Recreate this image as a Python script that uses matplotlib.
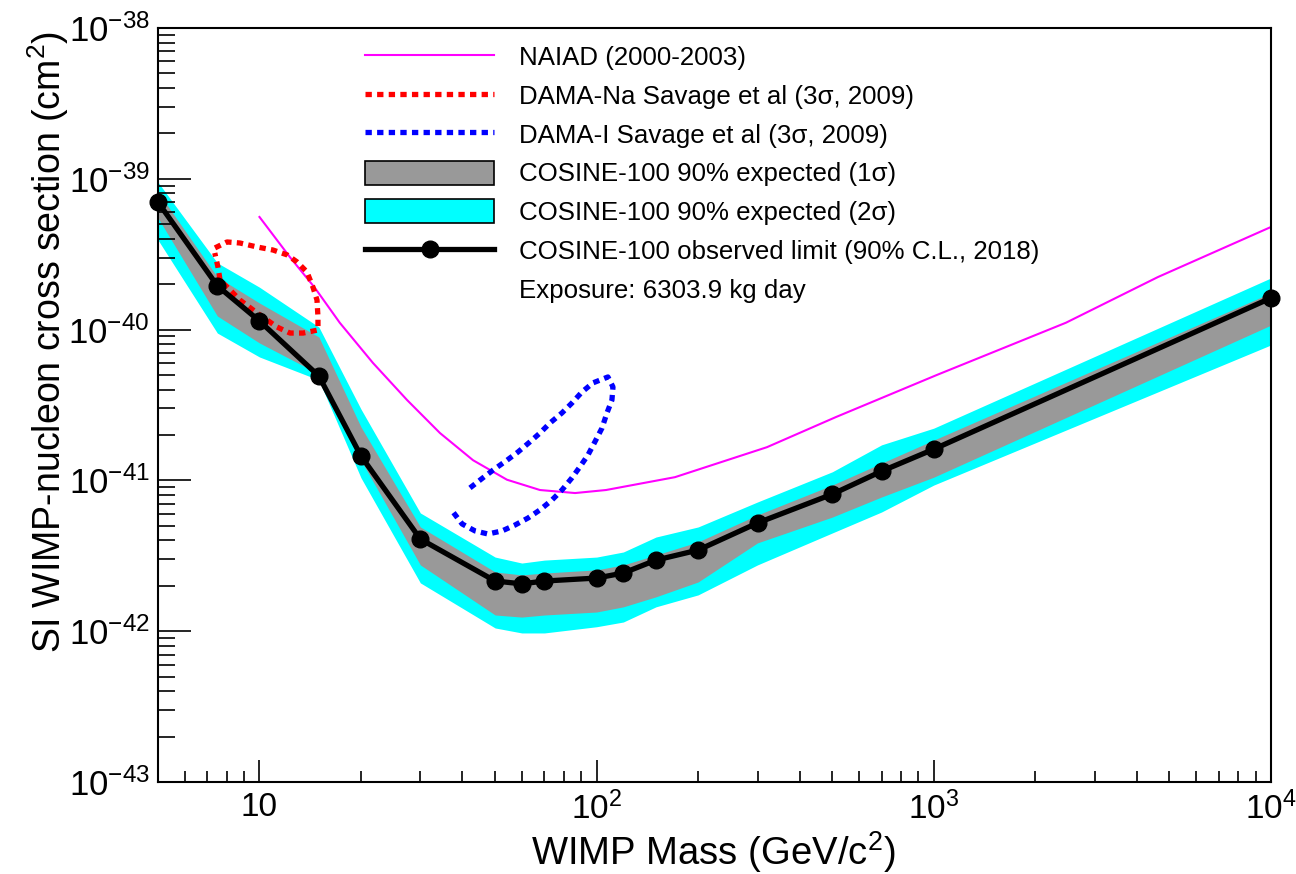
import matplotlib
matplotlib.use('Agg')
import matplotlib.pyplot as plt
from matplotlib.patches import Patch
from matplotlib.lines import Line2D
from matplotlib.ticker import FixedLocator, FixedFormatter, LogLocator, NullFormatter

plt.rcParams['font.family'] = ['Liberation Sans', 'DejaVu Sans']
plt.rcParams['mathtext.fontset'] = 'custom'
plt.rcParams['mathtext.rm'] = 'Liberation Sans'
plt.rcParams['mathtext.it'] = 'Liberation Sans:italic'

# COSINE-100 observed limit
mass = [5, 7.5, 10, 15, 20, 30, 50, 60, 70, 100, 120, 150, 200, 300, 500, 700, 1000, 10000]
observed = [7.0e-40, 1.95e-40, 1.14e-40, 4.92e-41, 1.45e-41, 4.08e-42, 2.15e-42, 2.06e-42, 2.15e-42,
            2.25e-42, 2.43e-42, 2.96e-42, 3.45e-42, 5.22e-42, 8.1e-42, 1.15e-41, 1.61e-41, 1.62e-40]

# expected bands
sig2_hi = [9.5e-40, 2.77e-40, 1.91e-40, 1.04e-40, 2.97e-41, 6.08e-42, 3.10e-42, 2.83e-42, 2.96e-42,
           3.10e-42, 3.35e-42, 4.21e-42, 4.91e-42, 7.19e-42, 1.14e-41, 1.72e-41, 2.22e-41, 2.20e-40]
sig1_hi = [8.17e-40, 2.23e-40, 1.50e-40, 8.93e-41, 2.26e-41, 4.91e-42, 2.47e-42, 2.36e-42, 2.43e-42,
           2.55e-42, 2.75e-42, 3.20e-42, 3.91e-42, 5.90e-42, 9.31e-42, 1.30e-41, 1.85e-41, 1.75e-40]
sig1_lo = [5.50e-40, 1.23e-40, 8.15e-41, 5.08e-41, 1.36e-41, 2.75e-42, 1.28e-42, 1.24e-42, 1.28e-42,
           1.34e-42, 1.45e-42, 1.69e-42, 2.12e-42, 3.85e-42, 5.71e-42, 7.76e-42, 1.05e-41, 1.07e-40]
sig2_lo = [3.93e-40, 9.48e-41, 6.58e-41, 4.63e-41, 1.04e-41, 2.09e-42, 1.05e-42, 9.73e-43, 9.73e-43,
           1.07e-42, 1.15e-42, 1.45e-42, 1.74e-42, 2.75e-42, 4.48e-42, 6.17e-42, 9.31e-42, 7.91e-41]

# NAIAD
naiad_m = [10.0, 12.3, 14.6, 17.3, 21.7, 27.4, 34.3, 43.0, 54.2, 67.9, 86.3, 106.6, 170.7, 320,
           512.6, 1021, 2465, 4620, 10000]
naiad_xs = [5.58e-40, 3.03e-40, 1.89e-40, 1.11e-40, 6.01e-41, 3.41e-41, 2.06e-41, 1.36e-41, 1.01e-41,
            8.63e-42, 8.24e-42, 8.63e-42, 1.05e-41, 1.66e-41, 2.63e-41, 5.0e-41, 1.11e-40, 2.23e-40, 4.79e-40]

# DAMA-Na contour
dama_na_m = [7.38, 8.01, 8.75, 9.83, 10.96, 12.07, 12.92, 13.83, 14.41, 14.81, 14.91, 14.91, 13.46,
             12.32, 11.27, 9.83, 8.75, 8.18, 7.64, 7.53, 7.37]
dama_na_xs = [3.48e-40, 3.81e-40, 3.75e-40, 3.53e-40, 3.37e-40, 3.13e-40, 2.81e-40, 2.41e-40, 1.91e-40,
              1.57e-40, 1.21e-40, 9.93e-41, 9.48e-41, 9.48e-41, 1.04e-40, 1.29e-40, 1.57e-40, 1.83e-40,
              2.13e-40, 2.60e-40, 3.22e-40]

# DAMA-I contour
dama_i_m = [42.1, 46.0, 49.3, 54.2, 58.4, 63.4, 67.9, 72.7, 78.9, 84.5, 90.4, 97.5, 108.0, 111.8, 111.0,
            107.3, 103.7, 98.8, 94.2, 89.2, 84.5, 78.9, 73.7, 67.9, 62.6, 57.3, 52.4, 47.6, 43.6, 39.9, 37.5]
dama_i_xs = [8.91e-42, 1.04e-41, 1.17e-41, 1.36e-41, 1.54e-41, 1.80e-41, 2.06e-41, 2.40e-41, 2.80e-41,
             3.26e-41, 3.85e-41, 4.43e-41, 4.85e-41, 4.16e-41, 3.41e-41, 2.80e-41, 2.22e-41, 1.80e-41,
             1.47e-41, 1.23e-41, 1.04e-41, 8.63e-42, 7.41e-42, 6.37e-42, 5.63e-42, 5.06e-42, 4.62e-42,
             4.41e-42, 4.62e-42, 5.14e-42, 6.17e-42]

fig = plt.figure(figsize=(12.96, 8.74), dpi=100)
ax = fig.add_axes([0.1219, 0.1053, 0.8588, 0.8627])

ax.fill_between(mass, sig2_lo, sig2_hi, color='#00ffff', lw=0)
ax.fill_between(mass, sig1_lo, sig1_hi, color='#999999', lw=0)
ax.plot(naiad_m, naiad_xs, color='#ff00ff', lw=1.5)
ax.plot(dama_na_m, dama_na_xs, color='#ff0000', lw=3.8, ls=(0, (1.2, 1.0)))
ax.plot(dama_i_m, dama_i_xs, color='#0000ff', lw=3.8, ls=(0, (1.2, 1.0)))
ax.plot(mass, observed, color='black', lw=3.8, marker='o', ms=12, clip_on=False, zorder=5)

ax.set_xscale('log')
ax.set_yscale('log')
ax.set_xlim(5, 1e4)
ax.set_ylim(1e-43, 1e-38)

ax.xaxis.set_major_locator(FixedLocator([10, 100, 1000, 10000]))
ax.xaxis.set_major_formatter(FixedFormatter(['10', '$10^{2}$', '$10^{3}$', '$10^{4}$']))
ax.xaxis.set_minor_locator(LogLocator(base=10, subs=range(2, 10), numticks=20))
ax.xaxis.set_minor_formatter(NullFormatter())
ax.yaxis.set_major_locator(FixedLocator([1e-43, 1e-42, 1e-41, 1e-40, 1e-39, 1e-38]))
ax.yaxis.set_major_formatter(FixedFormatter(['$10^{-43}$', '$10^{-42}$', '$10^{-41}$',
                                             '$10^{-40}$', '$10^{-39}$', '$10^{-38}$']))
ax.yaxis.set_minor_locator(LogLocator(base=10, subs=range(2, 10), numticks=20))
ax.yaxis.set_minor_formatter(NullFormatter())

ax.tick_params(axis='both', which='both', direction='in', top=False, right=False, width=1.2, colors='black')
ax.tick_params(axis='y', which='major', length=24, labelsize=25, pad=6)
ax.tick_params(axis='y', which='minor', length=12)
ax.tick_params(axis='x', which='major', length=16, labelsize=24, pad=7)
ax.tick_params(axis='x', which='minor', length=8)
for s in ax.spines.values():
    s.set_linewidth(1.5)

# axis titles placed like the ROOT canvas
fig.text(713 / 1296, 1 - 852 / 874, 'WIMP Mass (GeV/c$^{2}$)', fontsize=27.5, ha='center', va='center')
fig.text(48 / 1296, 1 - 342 / 874, 'SI WIMP-nucleon cross section (cm$^{2}$)', fontsize=27,
         rotation=90, ha='center', va='center')

handles = [
    Line2D([], [], color='#ff00ff', lw=1.5),
    Line2D([], [], color='#ff0000', lw=3.8, ls=(0, (1.2, 1.0))),
    Line2D([], [], color='#0000ff', lw=3.8, ls=(0, (1.2, 1.0))),
    Patch(facecolor='#999999', edgecolor='black', lw=1.2),
    Patch(facecolor='#00ffff', edgecolor='black', lw=1.2),
    Line2D([], [], color='black', lw=3.8, marker='o', ms=12),
    Line2D([], [], color='none'),
]
labels = [
    'NAIAD (2000-2003)',
    'DAMA-Na Savage et al (3σ, 2009)',
    'DAMA-I Savage et al (3σ, 2009)',
    'COSINE-100 90% expected (1σ)',
    'COSINE-100 90% expected (2σ)',
    'COSINE-100 observed limit (90% C.L., 2018)',
    'Exposure: 6303.9 kg day',
]
ax.legend(handles, labels, loc='upper left', bbox_to_anchor=(0.186, 0.978), frameon=False,
          fontsize=18.6, handlelength=5.0, handleheight=1.05, handletextpad=0.95,
          labelspacing=0.5, borderpad=0, borderaxespad=0)

fig.savefig('out.png', dpi=100)
